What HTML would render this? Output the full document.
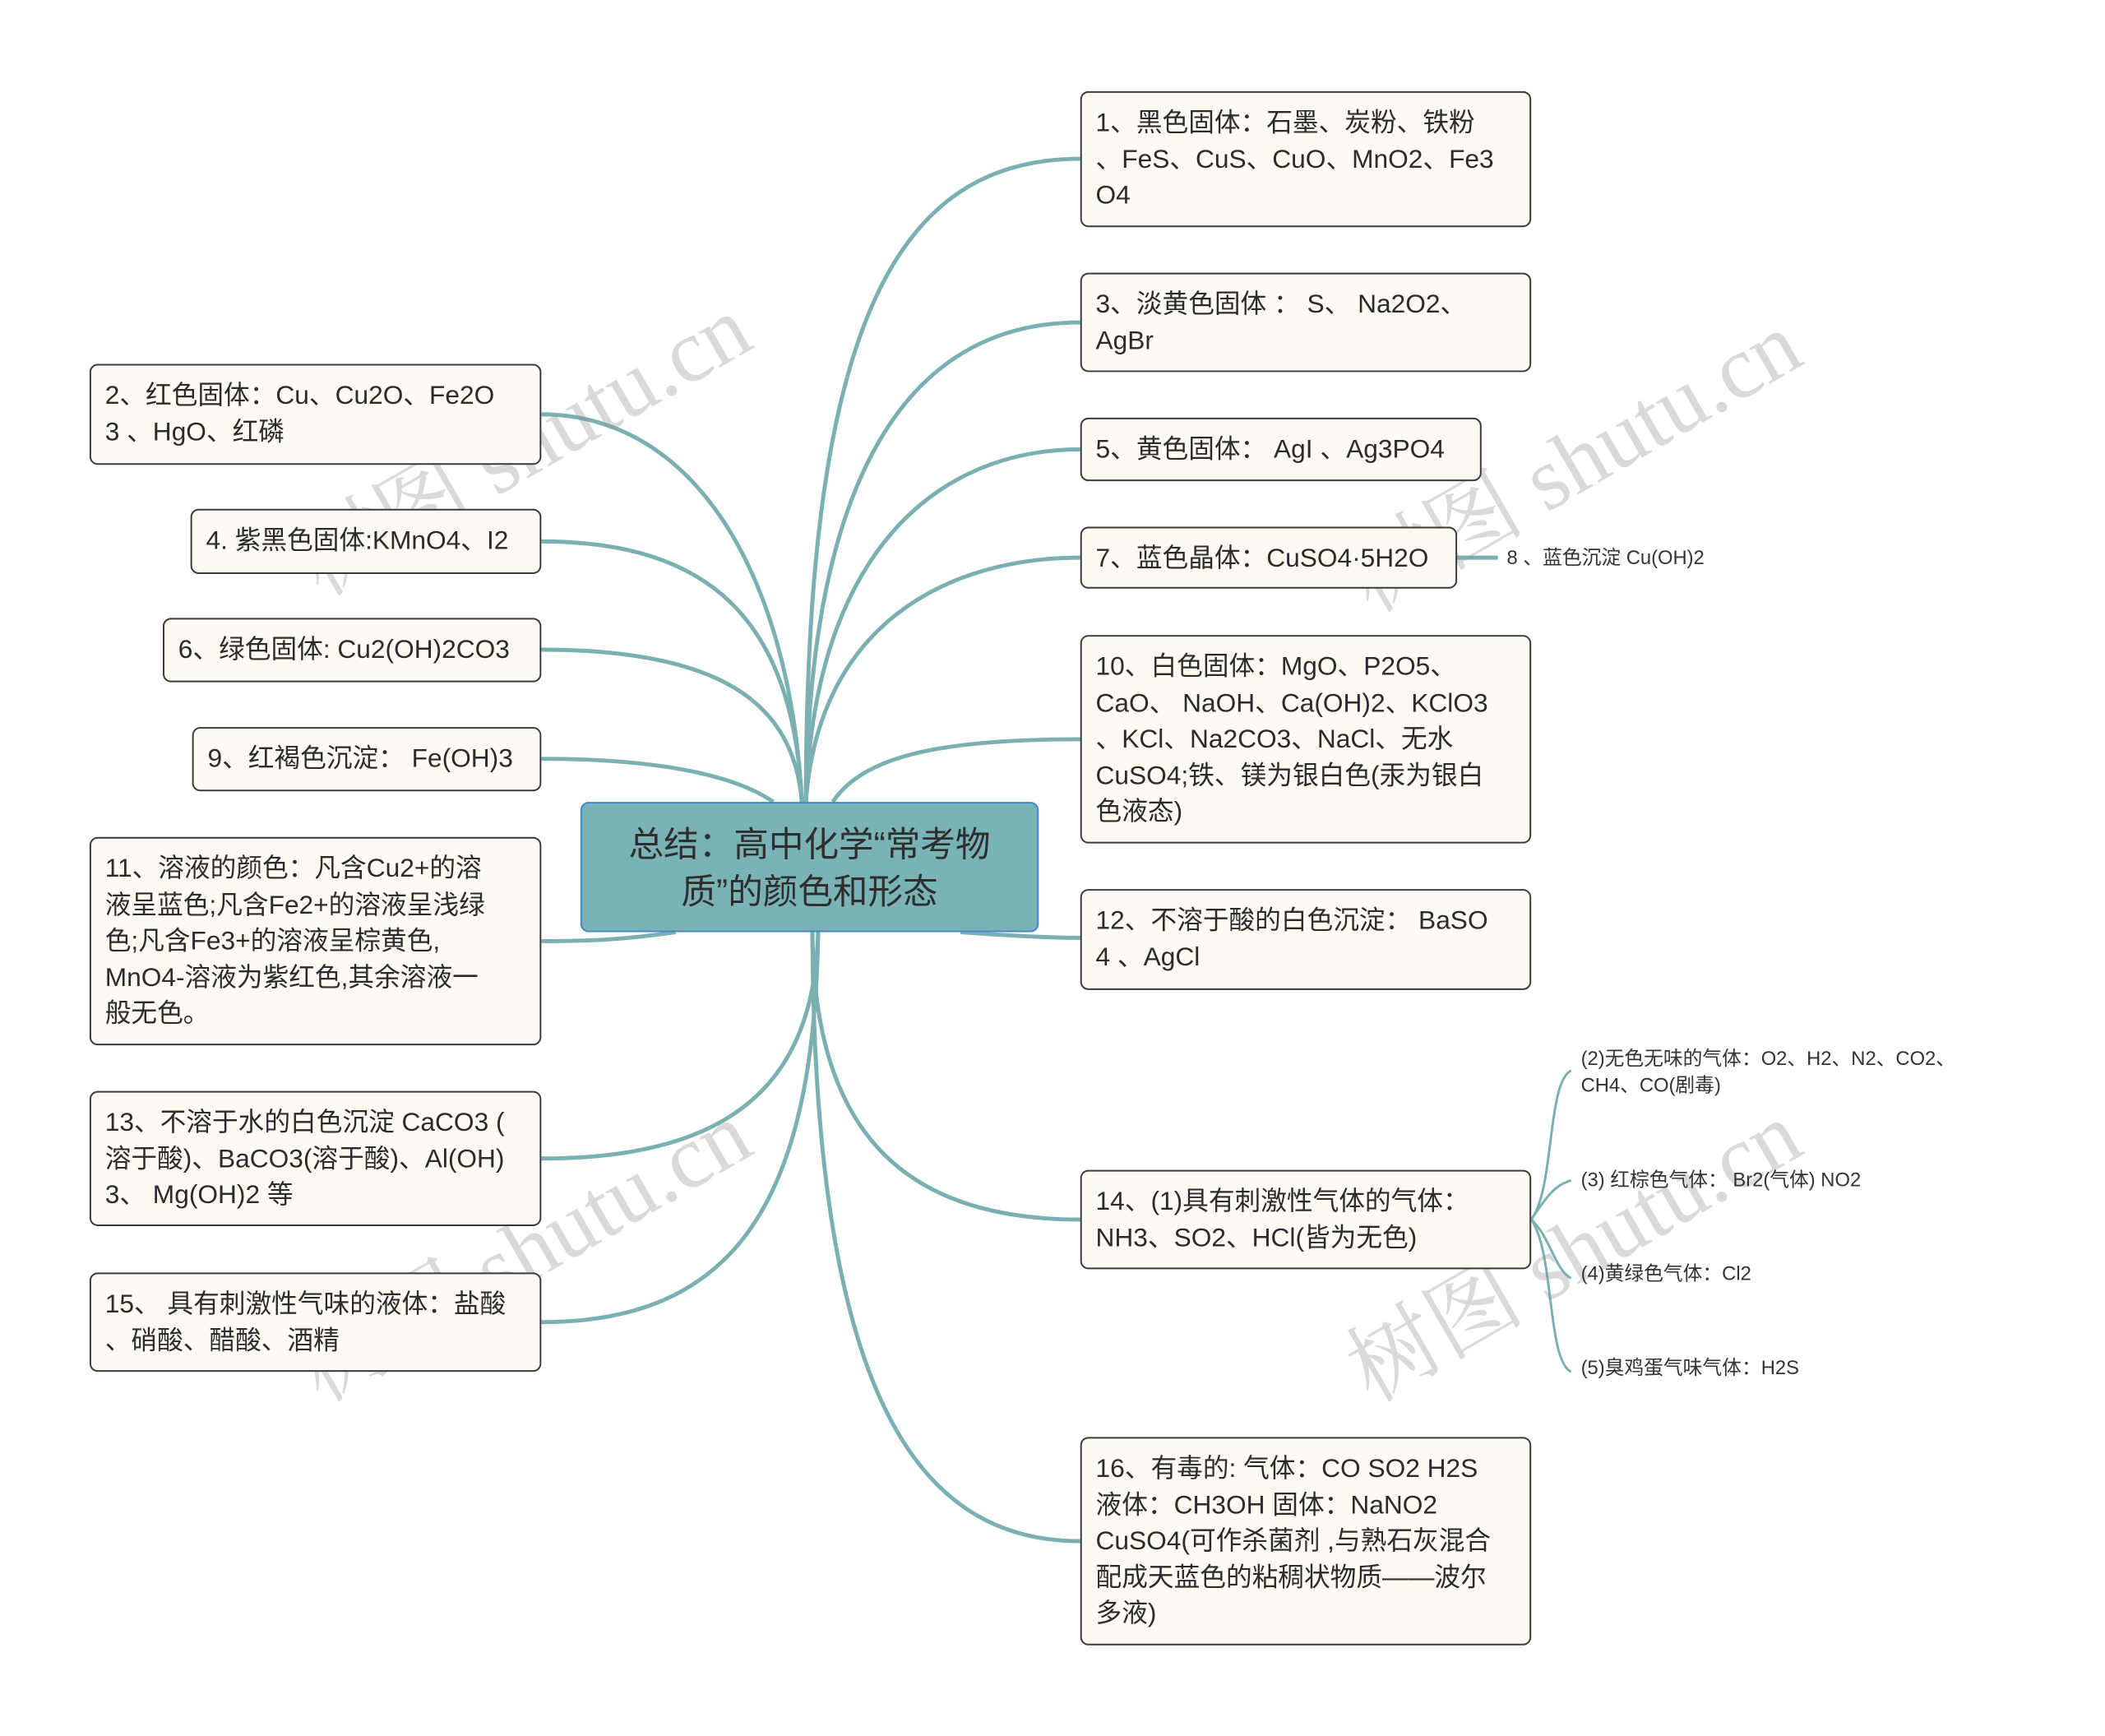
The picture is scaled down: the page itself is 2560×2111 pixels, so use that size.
<!DOCTYPE html>
<html><head><meta charset="utf-8">
<style>
body{margin:0;width:2560px;height:2111px;background:#fff;position:relative;overflow:hidden;font-family:"Liberation Sans","Noto Sans CJK SC",sans-serif;}
#w{position:absolute;left:0;top:0;width:2560px;height:2111px;transform:scale(0.99);transform-origin:0 0;}
.n{position:absolute;box-sizing:border-box;background:#fcfaf1;border:2px solid #3a3a3a;border-radius:10px;padding:14px 17px;font-size:32px;line-height:44.5px;color:#2b2b2b;white-space:nowrap;}
.s{position:absolute;font-size:24px;line-height:33px;color:#333;white-space:nowrap;}
.c{position:absolute;left:713px;top:985px;width:563px;height:160px;box-sizing:border-box;background:#7ab3b6;border:2px solid #3f86d0;border-radius:10px;font-size:43px;line-height:58px;color:#2e2e2e;text-align:center;padding-top:22px;}
.wm{position:absolute;font-family:"Liberation Serif","Noto Serif CJK SC",serif;font-size:110px;color:rgba(150,150,150,0.35);transform:rotate(-30deg);white-space:nowrap;}
svg{position:absolute;left:0;top:0;}
</style></head><body><div id="w">
<svg width="2560" height="2111" fill="none" stroke="#7bb0b3" stroke-width="5">
<path d="M990 985 C 990 400, 1100 195, 1327 195"/>
<path d="M990 985 C 995 560, 1130 396, 1327 396"/>
<path d="M990 985 C 1000 680, 1150 552, 1327 552"/>
<path d="M990 985 C 1005 770, 1160 685, 1327 685"/>
<path d="M1023 985 C 1060 930, 1150 908, 1327 908"/>
<path d="M985 985 C 970 700, 850 509, 665 509"/>
<path d="M985 985 C 975 760, 870 665, 665 665"/>
<path d="M985 985 C 975 860, 880 798, 665 798"/>
<path d="M950 985 C 900 950, 800 932, 665 932"/>
<path d="M830 1145 C 760 1155, 720 1156, 665 1156"/>
<path d="M1180 1145 C 1250 1150, 1290 1152, 1327 1152"/>
<path d="M998 1145 C 1000 1380, 1100 1498, 1327 1498"/>
<path d="M998 1145 C 1000 1700, 1120 1893, 1327 1893"/>
<path d="M1005 1145 C 1000 1330, 900 1423, 665 1423"/>
<path d="M1005 1145 C 1000 1480, 900 1624, 665 1624"/>
<path d="M1790 685 L1840 685"/>
<g stroke-width="3">
<path d="M1881 1498 C 1910 1460, 1900 1330, 1930 1315"/>
<path d="M1881 1498 C 1900 1470, 1910 1455, 1930 1450"/>
<path d="M1881 1498 C 1905 1520, 1910 1560, 1930 1570"/>
<path d="M1881 1498 C 1910 1540, 1900 1670, 1930 1685"/>
</g>
</svg>

<div class="wm" style="left:330px;top:460px;">树图 shutu.cn</div>
<div class="wm" style="left:1620px;top:480px;">树图 shutu.cn</div>
<div class="wm" style="left:330px;top:1450px;">树图 shutu.cn</div>
<div class="wm" style="left:1620px;top:1450px;">树图 shutu.cn</div>

<div class="c">总结：高中化学“常考物<br>质”的颜色和形态</div>

<div class="n" style="left:1327px;top:112px;width:554px;height:167px;">1、黑色固体：石墨、炭粉、铁粉<br>、FeS、CuS、CuO、MnO2、Fe3<br>O4</div>
<div class="n" style="left:1327px;top:335px;width:554px;height:122px;">3、淡黄色固体 ： S、 Na2O2、<br>AgBr</div>
<div class="n" style="left:1327px;top:513px;width:493px;height:78px;">5、黄色固体： AgI 、Ag3PO4</div>
<div class="n" style="left:1327px;top:647px;width:463px;height:76px;">7、蓝色晶体：CuSO4·5H2O</div>
<div class="s" style="left:1851px;top:669px;">8 、蓝色沉淀 Cu(OH)2</div>
<div class="n" style="left:1327px;top:780px;width:554px;height:256px;">10、白色固体：MgO、P2O5、<br>CaO、 NaOH、Ca(OH)2、KClO3<br>、KCl、Na2CO3、NaCl、无水<br>CuSO4;铁、镁为银白色(汞为银白<br>色液态)</div>
<div class="n" style="left:1327px;top:1092px;width:554px;height:124px;">12、不溶于酸的白色沉淀： BaSO<br>4 、AgCl</div>
<div class="n" style="left:1327px;top:1437px;width:554px;height:122px;">14、(1)具有刺激性气体的气体：<br>NH3、SO2、HCl(皆为无色)</div>
<div class="n" style="left:1327px;top:1765px;width:554px;height:256px;">16、有毒的: 气体：CO SO2 H2S<br>液体：CH3OH 固体：NaNO2<br>CuSO4(可作杀菌剂 ,与熟石灰混合<br>配成天蓝色的粘稠状物质——波尔<br>多液)</div>

<div class="s" style="left:1942px;top:1284px;">(2)无色无味的气体：O2、H2、N2、CO2、<br>CH4、CO(剧毒)</div>
<div class="s" style="left:1942px;top:1433px;">(3) 红棕色气体： Br2(气体) NO2</div>
<div class="s" style="left:1942px;top:1548px;">(4)黄绿色气体：Cl2</div>
<div class="s" style="left:1942px;top:1664px;">(5)臭鸡蛋气味气体：H2S</div>

<div class="n" style="left:110px;top:447px;width:555px;height:124px;">2、红色固体：Cu、Cu2O、Fe2O<br>3 、HgO、红磷</div>
<div class="n" style="left:234px;top:625px;width:431px;height:80px;">4. 紫黑色固体:KMnO4、I2</div>
<div class="n" style="left:200px;top:759px;width:465px;height:79px;">6、绿色固体: Cu2(OH)2CO3</div>
<div class="n" style="left:236px;top:893px;width:429px;height:79px;">9、红褐色沉淀： Fe(OH)3</div>
<div class="n" style="left:110px;top:1028px;width:555px;height:256px;">11、溶液的颜色：凡含Cu2+的溶<br>液呈蓝色;凡含Fe2+的溶液呈浅绿<br>色;凡含Fe3+的溶液呈棕黄色,<br>MnO4-溶液为紫红色,其余溶液一<br>般无色。</div>
<div class="n" style="left:110px;top:1340px;width:555px;height:166px;">13、不溶于水的白色沉淀 CaCO3 (<br>溶于酸)、BaCO3(溶于酸)、Al(OH)<br>3、 Mg(OH)2 等</div>
<div class="n" style="left:110px;top:1563px;width:555px;height:122px;">15、 具有刺激性气味的液体：盐酸<br>、硝酸、醋酸、酒精</div>
</div></body></html>
